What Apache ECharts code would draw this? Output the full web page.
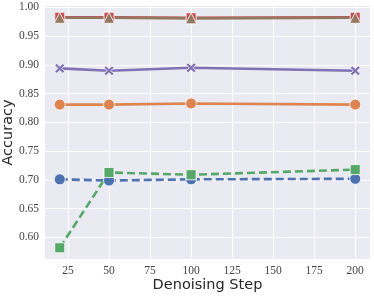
<!DOCTYPE html>
<html><head><meta charset="utf-8">
<script src="https://cdn.jsdelivr.net/npm/echarts@6/dist/echarts.min.js"></script>
<style>html,body{margin:0;padding:0;background:#fff}#c{width:374px;height:299px}</style>
</head><body><div id="c"></div>
<script>
const steps = [20, 50, 100, 200];
const xTicks = [25, 50, 75, 100, 125, 150, 175, 200];
const yTicks = [0.60, 0.65, 0.70, 0.75, 0.80, 0.85, 0.90, 0.95, 1.00];
const blueVals   = [0.701, 0.699, 0.701, 0.702];
const orangeVals = [0.831, 0.831, 0.833, 0.831];
const greenVals  = [0.582, 0.713, 0.709, 0.718];
const redVals    = [0.983, 0.983, 0.982, 0.983];
const purpleVals = [0.894, 0.890, 0.895, 0.890];
const brownVals  = [0.982, 0.982, 0.981, 0.982];

const X = 'path://M-3,-5 L0,-2 L3,-5 L5,-3 L2,0 L5,3 L3,5 L0,2 L-3,5 L-5,3 L-2,0 L-5,-3 Z';
function mk(name, vals, color, symbol, size, dashed) {
  return {
    name, type: 'line', data: steps.map((s, i) => [s, vals[i]]),
    symbol, symbolSize: size, showAllSymbol: true,
    lineStyle: { color, width: 2.6, type: dashed ? [8, 4] : 'solid' },
    itemStyle: { color, borderColor: '#ffffff', borderWidth: 0.8, opacity: 1 },
    z: 2, animation: false
  };
}
const chart = echarts.init(document.getElementById('c'), null, { renderer: 'canvas' });
const tickFont = { fontFamily: 'Liberation Serif', fontSize: 11.5, color: '#444444' };
chart.setOption({
  animation: false,
  backgroundColor: '#ffffff',
  grid: { left: 45, right: 4, top: 6, bottom: 40, show: true, backgroundColor: '#EAEAF2', borderWidth: 0,
          containLabel: false, outerBoundsMode: 'none' },
  xAxis: {
    type: 'value', min: 11, max: 209,
    name: 'Denoising Step', nameLocation: 'middle', nameGap: 19, nameMoveOverlap: false,
    nameTextStyle: { fontFamily: 'DejaVu Sans', fontSize: 14.5, color: '#262626' },
    axisLine: { show: false }, axisTick: { show: false, customValues: xTicks },
    axisLabel: Object.assign({ customValues: xTicks, margin: 6 }, tickFont),
    splitLine: { show: true, lineStyle: { color: '#ffffff', width: 1 } }
  },
  yAxis: {
    type: 'value', min: 0.5625, max: 1.0025,
    name: 'Accuracy', nameLocation: 'middle', nameGap: 29, nameMoveOverlap: false,
    nameTextStyle: { fontFamily: 'DejaVu Sans', fontSize: 14.5, color: '#262626' },
    axisLine: { show: false }, axisTick: { show: false, customValues: yTicks },
    axisLabel: Object.assign({ customValues: yTicks, margin: 6, formatter: v => v.toFixed(2) }, tickFont),
    splitLine: { show: true, lineStyle: { color: '#ffffff', width: 1 } }
  },
  series: [
    mk('blue', blueVals, '#4C72B0', 'circle', 11, true),
    mk('orange', orangeVals, '#DD8452', 'circle', 11, false),
    mk('green', greenVals, '#55A868', 'rect', 10, true),
    mk('red', redVals, '#C44E52', 'rect', 10, false),
    mk('purple', purpleVals, '#8172B3', X, 10, false),
    mk('brown', brownVals, '#937860', 'triangle', 11, false)
  ]
});
</script></body></html>
